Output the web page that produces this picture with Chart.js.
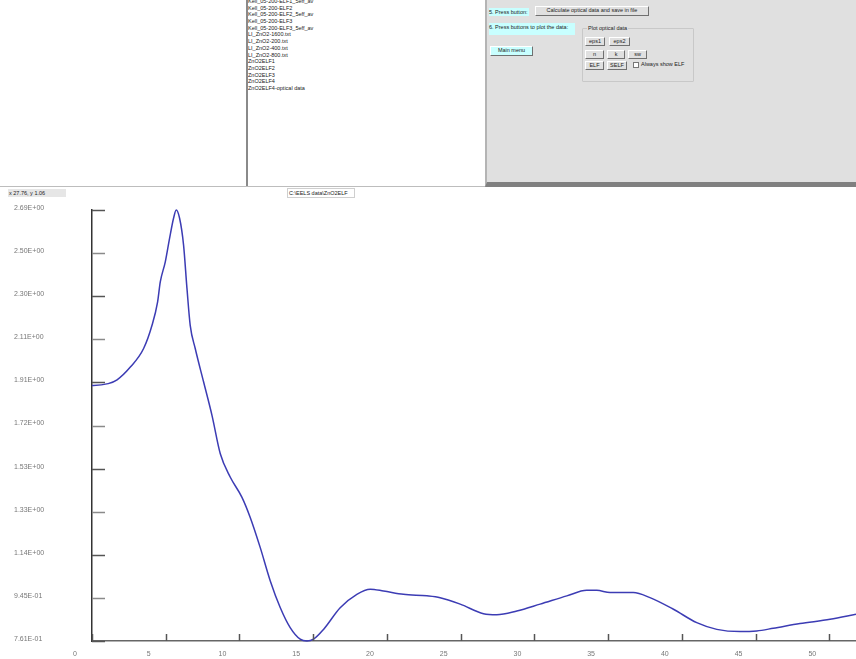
<!DOCTYPE html>
<html>
<head>
<meta charset="utf-8">
<script src="https://cdn.jsdelivr.net/npm/chart.js@4.4.1/dist/chart.umd.min.js"></script>
<style>
body { margin: 0; width: 856px; height: 659px; background: #fff; overflow: hidden; font-family: "Liberation Sans", Arial, sans-serif; font-size: 5.5px; color: #222; }
.abs { position: absolute; white-space: nowrap; }
#list { left: 248px; top: 0; width: 237px; height: 186px; overflow: hidden; }
#list div { height: 6.7px; line-height: 6.7px; white-space: nowrap; }
#panel { left: 485px; top: 0; width: 371px; height: 182px; background: #e0e0e0; border-left: 2px solid #b4b4b4; border-bottom: 5px solid #808080; }
.cyan { background: #c8ffff; }
.btn { background: #e0e0e0; border-top: 1px solid #fff; border-left: 1px solid #fff; border-right: 1px solid #707070; border-bottom: 1px solid #707070; text-align: center; line-height: 7px; }
.btn.cyan { background: #c8ffff; }
#chartBox { left: 0; top: 199px; width: 856px; height: 460px; }
</style>
</head>
<body>
<div class="abs" style="left:246px;top:0;width:2px;height:187px;background:#8a8a8a"></div>
<div class="abs" style="left:0;top:186px;width:485px;height:1px;background:#bdbdbd"></div>
<div class="abs" id="list">
  <div style="margin-top:-2px">Kell_05-200-ELF1_5eff_av</div>
  <div>Kell_05-200-ELF2</div>
  <div>Kell_05-200-ELF2_5eff_av</div>
  <div>Kell_05-200-ELF3</div>
  <div>Kell_05-200-ELF3_5eff_av</div>
  <div>LI_ZnO2-1600.txt</div>
  <div>LI_ZnO2-200.txt</div>
  <div>LI_ZnO2-400.txt</div>
  <div>LI_ZnO2-800.txt</div>
  <div>ZnO2ELF1</div>
  <div>ZnO2ELF2</div>
  <div>ZnO2ELF3</div>
  <div>ZnO2ELF4</div>
  <div>ZnO2ELF4-optical data</div>
</div>
<div class="abs" id="panel">
  <div class="abs cyan" style="left:2px;top:8px;width:40px;height:8px;line-height:8px">5. Press button:</div>
  <div class="abs btn" style="left:48px;top:6px;width:112px;height:8px">Calculate optical data and save in file</div>
  <div class="abs cyan" style="left:2px;top:23px;width:86px;height:12px;line-height:9px">6. Press buttons to plot the data:</div>
  <div class="abs btn cyan" style="left:3px;top:46px;width:41px;height:8px">Main menu</div>
  <div class="abs" style="left:95px;top:28px;width:110px;height:52px;border:1px solid #c8c8c8;border-radius:1px"></div>
  <div class="abs" style="left:100px;top:25px;background:#e0e0e0;padding:0 1px;line-height:7px">Plot optical data</div>
  <div class="abs btn" style="left:98px;top:37px;width:18px;height:7px">eps1</div>
  <div class="abs btn" style="left:122px;top:37px;width:19px;height:7px">eps2</div>
  <div class="abs btn" style="left:98px;top:50px;width:17px;height:7px">n</div>
  <div class="abs btn" style="left:120px;top:50px;width:16px;height:7px">k</div>
  <div class="abs btn" style="left:141px;top:50px;width:17px;height:7px">sw</div>
  <div class="abs btn" style="left:98px;top:61px;width:17px;height:7px">ELF</div>
  <div class="abs btn" style="left:120px;top:61px;width:18px;height:7px">SELF</div>
  <div class="abs" style="left:146px;top:62px;width:4px;height:4px;background:#fff;border:1px solid #777"></div>
  <div class="abs" style="left:154px;top:61px;line-height:7px">Always show ELF</div>
</div>
<div class="abs" style="left:8px;top:189px;width:57px;height:8px;background:#e6e6e6;line-height:8px;padding-left:1px">x 27.76, y 1.06</div>
<div class="abs" style="left:287px;top:188px;width:65px;height:8px;background:#fff;border:1px solid #cfcfcf;line-height:8px;padding-left:1px">C:\EELS data\ZnO2ELF</div>
<div class="abs" id="chartBox"><canvas id="elfChart"></canvas></div>
<script>
// ELF curve
const energy = [0, 0.1, 1.1, 1.7, 2.6, 3.5, 4.07, 4.45, 4.63, 4.97, 5.26, 5.53, 5.71, 5.94, 6.21, 6.44, 6.66, 7.0, 7.57, 8.14, 8.7, 9.38, 10.17, 10.73, 11.41, 12.09, 12.77, 13.44, 14.12, 14.58, 15.02, 15.7, 16.83, 17.96, 18.87, 19.77, 21.12, 22.71, 23.61, 24.97, 26.55, 27.45, 28.81, 30.39, 32.2, 33.55, 34.23, 35.13, 36.71, 37.84, 39.43, 41.01, 42.37, 43.95, 45.08, 46.2, 48.01, 50.05, 51.81];
const elf = [1.905, 1.905, 1.913, 1.93, 1.987, 2.07, 2.174, 2.279, 2.368, 2.458, 2.563, 2.653, 2.69, 2.653, 2.533, 2.339, 2.174, 2.07, 1.92, 1.77, 1.599, 1.494, 1.404, 1.314, 1.179, 1.03, 0.91, 0.821, 0.769, 0.761, 0.769, 0.813, 0.91, 0.97, 0.993, 0.985, 0.97, 0.963, 0.955, 0.926, 0.883, 0.878, 0.895, 0.926, 0.963, 0.988, 0.988, 0.978, 0.978, 0.955, 0.903, 0.843, 0.813, 0.803, 0.806, 0.818, 0.839, 0.858, 0.881];
const xTickLabels = ['0', '5', '10', '15', '20', '25', '30', '35', '40', '45', '50'];
const yTickLabels = ['7.61E-01', '9.45E-01', '1.14E+00', '1.33E+00', '1.53E+00', '1.72E+00', '1.91E+00', '2.11E+00', '2.30E+00', '2.50E+00', '2.69E+00'];
const yMin = 0.761, yMax = 2.69;
const xMax = 51.81;

// tick marks drawn inside the plot, like the original program
const innerTicks = {
    id: 'innerTicks',
    afterDraw(chart) {
        const ctx = chart.ctx;
        const area = chart.chartArea;
        const xs = chart.scales.x, ys = chart.scales.y;
        ctx.save();
        ctx.lineWidth = 1.5;
        ys.ticks.forEach(function(t, i) {
            const y = Math.round(ys.getPixelForValue(t.value)) + 0.5;
            ctx.strokeStyle = i % 2 ? '#8a8a8a' : '#555';
            ctx.beginPath();
            ctx.moveTo(area.left, y);
            ctx.lineTo(area.left + 13, y);
            ctx.stroke();
        });
        ctx.strokeStyle = '#555';
        xs.ticks.forEach(function(t) {
            const x = Math.round(xs.getPixelForValue(t.value)) + 0.5;
            ctx.beginPath();
            ctx.moveTo(x, area.bottom);
            ctx.lineTo(x, area.bottom - 7);
            ctx.stroke();
        });
        ctx.restore();
    }
};

const ctx = document.getElementById('elfChart').getContext('2d');
const elfChart = new Chart(ctx, {
    type: 'line',
    data: {
        datasets: [{
            data: energy.map(function(e, i) { return { x: e, y: elf[i] }; }),
            borderColor: '#3c3cb4',
            borderWidth: 1.5,
            pointRadius: 0,
            fill: false,
            cubicInterpolationMode: 'monotone',
            clip: 4
        }]
    },
    options: {
        responsive: true,
        maintainAspectRatio: false,
        animation: false,
        layout: { padding: { top: 11, left: 14, right: 0, bottom: 0 } },
        plugins: {
            legend: { display: false },
            tooltip: { enabled: false }
        },
        scales: {
            x: {
                type: 'linear',
                min: 0,
                max: xMax,
                afterBuildTicks: function(scale) {
                    scale.ticks = xTickLabels.map(function(l, i) { return { value: i * 5 }; });
                },
                afterFit: function(scale) { scale.height = 18; },
                grid: { display: false },
                border: { display: true, color: '#666', width: 1.5 },
                ticks: {
                    labelOffset: -17,
                    padding: 1,
                    maxRotation: 0,
                    autoSkip: false,
                    color: '#777',
                    font: { family: 'Liberation Sans', size: 7 },
                    callback: function(v, i) { return xTickLabels[i]; }
                }
            },
            y: {
                min: yMin,
                max: yMax,
                afterBuildTicks: function(scale) {
                    const step = (yMax - yMin) / (yTickLabels.length - 1);
                    scale.ticks = yTickLabels.map(function(l, i) { return { value: yMin + i * step }; });
                },
                afterFit: function(scale) { scale.width = 78; },
                grid: { display: false },
                border: { display: true, color: '#333', width: 1.5 },
                ticks: {
                    crossAlign: 'far',
                    labelOffset: -2,
                    autoSkip: false,
                    color: '#777',
                    font: { family: 'Liberation Sans', size: 7 },
                    callback: function(v, i) { return yTickLabels[i]; }
                }
            }
        }
    },
    plugins: [innerTicks]
});
</script>
</body>
</html>
